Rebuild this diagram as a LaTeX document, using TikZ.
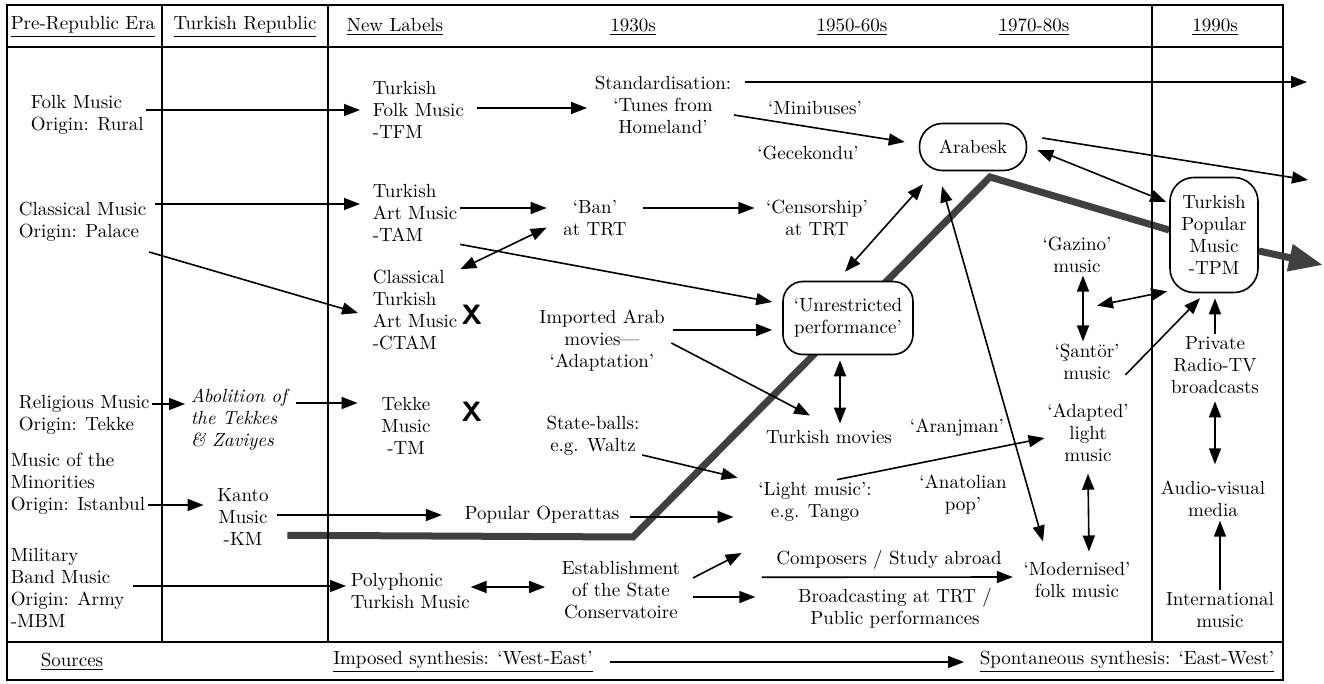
\documentclass[tikz,border=0pt]{standalone}
\usetikzlibrary{arrows.meta}
\usetikzlibrary{backgrounds}

\begin{document}
\begin{tikzpicture}[x=0.5pt,y=-0.5pt,
    >={Triangle[length=8pt,width=6pt]},
    every path/.style={line width=0.8pt},
    lab/.style={
% The text:
font=\fontsize{9.5}{11}\selectfont,
align=center,
% The border:
inner sep=1pt,
},
    labl/.style={
lab,
% The text:
align=left, anchor=west,
},
    box/.style={
lab,
% The shape:
rectangle, rounded corners=#1,
% The border:
draw, line width=0.8pt, fill=white,
inner sep=3pt,
},
    xmark/.style={
% The text:
font=\sffamily\bfseries\fontsize{14}{14}\selectfont,
inner sep=1pt,
},
    heavy/.style={
% The line:
line width=3.5pt, black!75,
},
    gridline/.style={
% The line:
line width=1.1pt,
},
]
  \useasboundingbox (0,0) rectangle (1324,684);

  % table
  \draw [gridline] (7,5) rectangle (1283,680);
  \draw [gridline] (7,47) -- (1283,47);
  \draw [gridline] (7,642) -- (1283,642);
  \draw [gridline] (162,5) -- (162,642);
  \draw [gridline] (328,5) -- (328,642);
  \draw [gridline] (1152,5) -- (1152,642);

  \node[lab] (hpre)  at (83,27)   {\underline{Pre-Republic Era}};
  \node[lab] (hrep)  at (245,27)  {\underline{Turkish Republic}};
  \node[lab] (hnew)  at (395,27)  {\underline{New Labels}};
  \node[lab] (h30)   at (633,27)  {\underline{1930s}};
  \node[lab] (h50)   at (852,27)  {\underline{1950-60s}};
  \node[lab] (h70)   at (1034,27) {\underline{1970-80s}};
  \node[lab] (h90)   at (1215,27) {\underline{1990s}};

  % sources
  \node[labl] (folk)      at (28,115)  {Folk Music\\Origin: Rural};
  \node[labl] (classical) at (16,222)  {Classical Music\\Origin: Palace};
  \node[labl] (religious) at (16,415)  {Religious Music\\Origin: Tekke};
  \node[labl] (minor)     at (8,484)   {Music of the\\Minorities\\Origin: Istanbul};
  \node[labl] (military)  at (8,588)   {Military\\Band Music\\Origin: Army\\-MBM};

  \node[labl,font=\fontsize{9.5}{11}\selectfont\itshape]
    (abolition) at (188,420) {Abolition of\\the Tekkes\\\& Zaviyes};
  \node[lab]  (kanto)     at (243,517) {Kanto\\Music\\-KM};

  % new labels
  \node[labl] (tfm)       at (370,110) {Turkish\\Folk Music\\-TFM};
  \node[labl] (tam)       at (370,213) {Turkish\\Art Music\\-TAM};
  \node[labl] (ctam)      at (370,310) {Classical\\Turkish\\Art Music\\-CTAM};
  \node[xmark] (xa)       at (472,315) {X};
  \node[lab]  (tm)        at (406,426) {Tekke\\Music\\-TM};
  \node[xmark] (xb)       at (472,412) {X};
  \node[lab]  (opera)     at (542,515) {Popular Operattas};
  \node[labl] (poly)      at (348,591) {Polyphonic\\Turkish Music};

  % 1930s
  \node[lab]  (stand)     at (663,105) {Standardisation:\\`Tunes from\\Homeland'};
  \node[lab]  (ban)       at (595,218) {`Ban'\\at TRT};
  \node[lab]  (censor)    at (817,218) {`Censorship'\\at TRT};
  \node[lab]  (arab)      at (602,341) {Imported Arab\\movies---\\`Adaptation'};
  \node[lab]  (balls)     at (593,436) {State-balls:\\e.g. Waltz};
  \node[lab]  (estab)     at (621,590) {Establishment\\of the State\\Conservatoire};

  % 1950-60s
  \node[lab]  (mini)      at (815,108) {`Minibuses'};
  \node[lab]  (gece)      at (808,153) {`Gecekondu'};
  \node[box=10pt,minimum width=65pt,minimum height=36.5pt]
    (unres) at (848,318) {`Unrestricted\\performance'};
  \node[lab]  (movies)    at (829,437) {Turkish movies};
  \node[lab]  (light)     at (815,502) {`Light music':\\e.g. Tango};
  \node[lab]  (comp)      at (889,560) {Composers / Study abroad};
  \node[lab]  (broad)     at (895,608) {Broadcasting at TRT /\\Public performances};

  % 1970-80s
  \node[box=11.5pt,minimum width=53.5pt,minimum height=23.5pt]
    (arabesk) at (973,147) {Arabesk};
  \node[lab]  (aran)      at (957,428) {`Aranjman'};
  \node[lab]  (anat)      at (963,495) {`Anatolian\\pop'};
  \node[lab]  (gazino)    at (1077,255) {`Gazino'\\music};
  \node[lab]  (santor)    at (1087,362) {`Şantör'\\music};
  \node[lab]  (adapted)   at (1088,433) {`Adapted'\\light\\music};
  \node[lab]  (modern)    at (1077,580) {`Modernised'\\folk music};

  % 1990s
  \node[box=12pt,minimum width=44pt,minimum height=57.5pt]
    (tpm) at (1214,235) {Turkish\\Popular\\Music\\-TPM};
  \node[lab]  (private)   at (1215,365) {Private\\Radio-TV\\broadcasts};
  \node[lab]  (audio)     at (1213,499) {Audio-visual\\media};
  \node[lab]  (intl)      at (1220,610) {International\\music};

  % bottom band
  \node[lab]  (sources)   at (72,662)   {\underline{Sources}};
  \node[lab]  (imposed)   at (463,662)  {\underline{Imposed synthesis: `West-East'}};
  \node[lab]  (spont)     at (1127,662) {\underline{Spontaneous synthesis: `East-West'}};

  \coordinate (edgeA) at (1307,82);
  \coordinate (edgeB) at (1308,180);
  \coordinate (edgeC) at (1323,265);
  \coordinate (bendA) at (633,537);
  \coordinate (bendB) at (990,177);

  % the heavy path
  \begin{scope}[on background layer]
  \draw [heavy] ([xshift=8pt,yshift=6.5pt]kanto.south east) -- (bendA) -- (bendB)
    -- ([yshift=2.5pt]tpm.west);
  \end{scope}
  \draw [heavy,-{Triangle[length=17pt,width=13pt]}] ([yshift=-8pt]tpm.east) -- (edgeC);

  % sources to new labels
  \draw [->] ([yshift=2.5pt]folk.east) -- ([xshift=-5pt]tfm.west);
  \draw [->] ([xshift=3pt,yshift=9pt]classical.east) -- ([xshift=-5pt,yshift=4.5pt]tam.west);
  \draw [->] ([yshift=-15pt]classical.east) -- ([xshift=-6pt,yshift=-1.5pt]ctam.west);
  \draw [->] ([yshift=5.5pt]religious.east) -- ([xshift=-1.5pt,yshift=8pt]abolition.west);
  \draw [->] ([xshift=3pt,yshift=8.5pt]abolition.east) -- ([xshift=-10.5pt,yshift=11.5pt]tm.west);
  \draw [->] ([yshift=-10.5pt]minor.east) -- ([xshift=-5.5pt,yshift=6pt]kanto.west);
  \draw [->] ([xshift=3pt,yshift=1pt]kanto.east) -- ([xshift=-10pt]opera.west);
  \draw [->] ([xshift=3pt,yshift=1pt]military.east) -- ([xshift=-1pt,yshift=2.5pt]poly.west);
  \draw [<->] ([xshift=-1pt,yshift=2pt]poly.east) -- ([xshift=-7pt,yshift=1.5pt]estab.west);

  % 1930s
  \draw [->] ([xshift=5pt,yshift=1pt]tfm.east) -- ([xshift=-2.5pt,yshift=-1.5pt]stand.west);
  \draw [->] ([xshift=5.5pt,yshift=11.5pt]stand.east) -- (edgeA);
  \draw [->] ([yshift=-5pt]stand.east) -- ([xshift=-7pt,yshift=2.5pt]arabesk.west);
  \draw [->] ([yshift=2.5pt]tam.east) -- ([xshift=-7pt,yshift=5pt]ban.west);
  \draw [<->] ([yshift=-1pt]ctam.north east) -- ([xshift=-7pt,yshift=5.5pt]ban.south west);
  \draw [->] ([xshift=7pt,yshift=5pt]ban.east) -- ([xshift=-4.5pt,yshift=5pt]censor.west);
  \draw [->] (tam.south east) -- ([xshift=-5pt,yshift=8pt]unres.west);
  \draw [->] ([xshift=3pt,yshift=5.5pt]arab.east) -- ([xshift=-5pt,yshift=-6pt]unres.west);
  \draw [->] ([xshift=2pt,yshift=-1pt]arab.east) -- ([xshift=-9.5pt,yshift=6pt]movies.north);
  \draw [->] ([yshift=-9.5pt]balls.east) -- ([xshift=-9pt,yshift=1pt]light.north west);
  \draw [->] ([xshift=4pt,yshift=-1pt]opera.east) -- ([xshift=-11pt,yshift=-7.5pt]light.west);
  \draw [->] ([xshift=5pt,yshift=6pt]estab.east) -- ([xshift=-16pt,yshift=3.5pt]comp.west);
  \draw [->] ([xshift=5pt,yshift=-3.5pt]estab.east) -- ([xshift=-20pt,yshift=5.5pt]broad.west);
  \draw [->] ([xshift=-6pt,yshift=-2.5pt]comp.south west) -- ([xshift=-4pt,yshift=1.5pt]modern.west);

  % 1950-60s / 1970-80s
  \draw [<->] ([xshift=-4pt,yshift=-2.5pt]unres.south) -- ([xshift=5.5pt,yshift=2pt]movies.north);
  \draw [<->] ([xshift=-1.5pt,yshift=4.5pt]unres.north) -- ([xshift=-25pt,yshift=-6.5pt]arabesk.south);
  \draw [<->] ([xshift=-15.5pt,yshift=-7.5pt]arabesk.south) -- ([xshift=-17pt,yshift=9pt]modern.north);
  \draw [->] ([xshift=7.5pt,yshift=4.5pt]arabesk.east) -- (edgeB);
  \draw [<->] ([xshift=5pt,yshift=-1.5pt]arabesk.east) -- ([xshift=-1.5pt,yshift=16.5pt]tpm.west);
  \draw [->] ([xshift=11pt]light.north) -- ([yshift=-2.5pt]adapted.west);
  \draw [<->] ([yshift=-4.5pt]adapted.south) -- ([xshift=6pt,yshift=4pt]modern.north);
  \draw [<->] ([xshift=3pt]gazino.south) -- ([xshift=-2pt]santor.north);
  \draw [<->] ([xshift=10pt,yshift=-15pt]gazino.south) -- ([xshift=-1pt,yshift=1pt]tpm.south west);
  \draw [->] ([xshift=1.5pt,yshift=-6.5pt]santor.east) -- ([xshift=-7pt,yshift=-2.5pt]tpm.south);

  % 1990s
  \draw [->] (private.north) -- ([yshift=-2.5pt]private.north |- tpm.south);
  \draw [<->] ([yshift=-2.5pt]private.south) -- ([yshift=7pt]private.south |- audio.north);
  \draw [->] (intl.north) -- ([yshift=-0.5pt]intl.north |- audio.south);

  \draw [->] ([xshift=7pt]imposed.east) -- ([xshift=-6.5pt]spont.west);

\end{tikzpicture}
\end{document}
